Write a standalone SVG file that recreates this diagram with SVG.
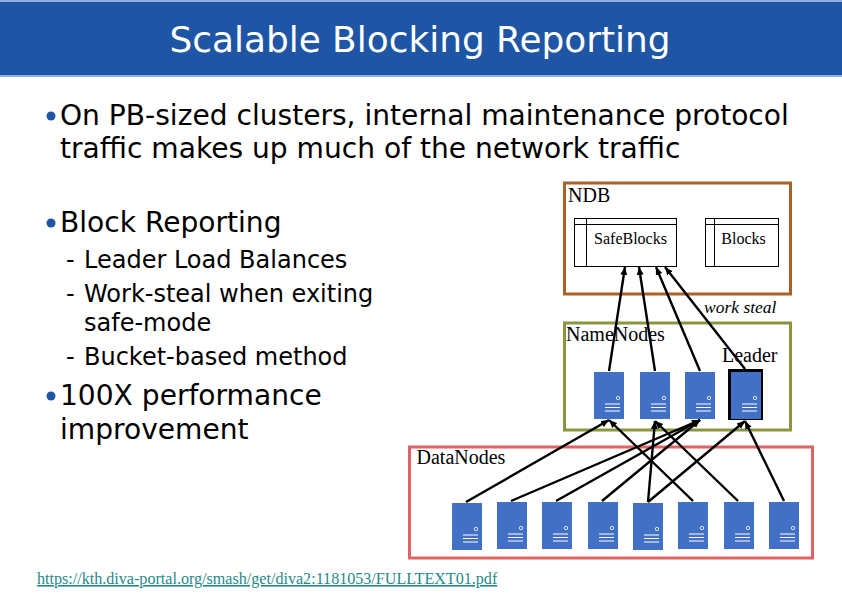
<svg xmlns="http://www.w3.org/2000/svg" xmlns:xlink="http://www.w3.org/1999/xlink" width="842" height="595" viewBox="0 0 842 595">
<style>
.b{font-family:"DejaVu Sans",sans-serif;fill:#000}
.l1{font-size:28.100px}
.l2{font-size:24px}
.s{font-family:"Liberation Serif",serif;fill:#000}
.box{fill:#fff;stroke-width:3}
.tb{fill:#fff;stroke:#000;stroke-width:1}
.c line{stroke:#000;stroke-width:2.400;marker-end:url(#a)}
.bullet{fill:#1f55a5}
.srv{fill:#4170c4}
.srvl{stroke:#fff;stroke-width:1.200}
</style>
<defs>
<marker id="a" markerUnits="userSpaceOnUse" markerWidth="10" markerHeight="10" refX="8" refY="4" orient="auto"><path d="M0 .5L8 4L0 7.500z" fill="#000"/></marker>
<g id="server">
<rect class="srv" width="30" height="47"/>
<circle cx="24" cy="26" r="1.700" fill="none" stroke="#fff" stroke-width=".8"/>
<path class="srvl" d="M11 32H26M11 35.500H26M11 39H26"/>
</g>
</defs>
<rect width="842" height="595" fill="#fff"/>
<g id="title">
<rect x="0" y="0" width="842" height="77" fill="#8fb0e0"/>
<rect x="0" y="2" width="842" height="73" fill="#1f55a5"/>
<text x="420" y="52" text-anchor="middle" font-family="DejaVu Sans,sans-serif" font-size="35.900" fill="#fff">Scalable Blocking Reporting</text>
</g>
<g id="body">
<circle class="bullet" cx="51" cy="116" r="4.500"/>
<text class="b l1" x="60" y="125">On PB-sized clusters, internal maintenance protocol</text>
<text class="b l1" x="60" y="158">traffic makes up much of the network traffic</text>
<circle class="bullet" cx="51" cy="223" r="4.500"/>
<text class="b l1" x="60" y="232">Block Reporting</text>
<text class="b l2" x="66" y="268">-</text>
<text class="b l2" x="84" y="268">Leader Load Balances</text>
<text class="b l2" x="66" y="302">-</text>
<text class="b l2" x="84" y="302">Work-steal when exiting</text>
<text class="b l2" x="84" y="331">safe-mode</text>
<text class="b l2" x="66" y="365">-</text>
<text class="b l2" x="84" y="365">Bucket-based method</text>
<circle class="bullet" cx="51" cy="396" r="4.500"/>
<text class="b l1" x="60" y="405">100X performance</text>
<text class="b l1" x="60" y="439">improvement</text>
</g>
<g id="ndb">
<rect class="box" x="564.500" y="183" width="226" height="111" stroke="#a8622a"/>
<text class="s" x="568" y="202" font-size="20">NDB</text>
</g>
<g id="safeblocks">
<rect class="tb" x="574.500" y="218.500" width="102" height="48"/>
<path class="tb" d="M586.500 218.500V266.500M574.500 224.500H676.500"/>
<text class="s" x="630.500" y="244" text-anchor="middle" font-size="16">SafeBlocks</text>
</g>
<g id="blocks">
<rect class="tb" x="705.500" y="218.500" width="73" height="48"/>
<path class="tb" d="M714.500 218.500V266.500M705.500 224.500H778.500"/>
<text class="s" x="743.500" y="244" text-anchor="middle" font-size="16">Blocks</text>
</g>
<g id="namenodes">
<rect class="box" x="564.500" y="323" width="226" height="107" stroke="#8c9440"/>
</g>
<g id="datanodes">
<rect class="box" x="409.500" y="447" width="403" height="111" stroke="#e06363" stroke-width="4"/>
<text class="s" x="416.500" y="464" font-size="20">DataNodes</text>
</g>
<g id="nn1"><use href="#server" xlink:href="#server" x="594" y="372"/></g>
<g id="nn2"><use href="#server" xlink:href="#server" x="640" y="372"/></g>
<g id="nn3"><use href="#server" xlink:href="#server" x="685" y="372"/></g>
<g id="nn4"><rect x="729.500" y="370.500" width="32" height="48" fill="none" stroke="#000" stroke-width="3"/><use href="#server" xlink:href="#server" x="731" y="372"/></g>
<g id="dn1"><use href="#server" xlink:href="#server" x="452" y="503"/></g>
<g id="dn2"><use href="#server" xlink:href="#server" x="497" y="502"/></g>
<g id="dn3"><use href="#server" xlink:href="#server" x="542" y="502"/></g>
<g id="dn4"><use href="#server" xlink:href="#server" x="588" y="502"/></g>
<g id="dn5"><use href="#server" xlink:href="#server" x="633" y="503"/></g>
<g id="dn6"><use href="#server" xlink:href="#server" x="678" y="502"/></g>
<g id="dn7"><use href="#server" xlink:href="#server" x="724" y="502"/></g>
<g id="dn8"><use href="#server" xlink:href="#server" x="769" y="502"/></g>
<g id="connectors" class="c">
<line x1="609" y1="371" x2="625" y2="267"/>
<line x1="655" y1="371" x2="639" y2="267"/>
<line x1="700" y1="371" x2="656" y2="267"/>
<line x1="745" y1="369" x2="665" y2="267"/>
<line x1="466" y1="502" x2="609" y2="420"/>
<line x1="511" y1="501" x2="700" y2="420"/>
<line x1="556" y1="501" x2="700" y2="420"/>
<line x1="602" y1="501" x2="700" y2="420"/>
<line x1="648" y1="502" x2="655" y2="421"/>
<line x1="648" y1="502" x2="745" y2="421"/>
<line x1="693" y1="501" x2="609" y2="420"/>
<line x1="738" y1="501" x2="655" y2="421"/>
<line x1="784" y1="501" x2="745" y2="421"/>
</g>
<g id="labels">
<text class="s" x="566" y="341" font-size="20">NameNodes</text>
<text class="s" x="722" y="362" font-size="20">Leader</text>
<text class="s" x="704" y="313" font-size="17.500" font-style="italic">work steal</text>
</g>
<text id="url" x="37" y="584" font-family="Liberation Serif,serif" font-size="16.100" fill="#1f8a8a" text-decoration="underline">https://kth.diva-portal.org/smash/get/diva2:1181053/FULLTEXT01.pdf</text>
</svg>
